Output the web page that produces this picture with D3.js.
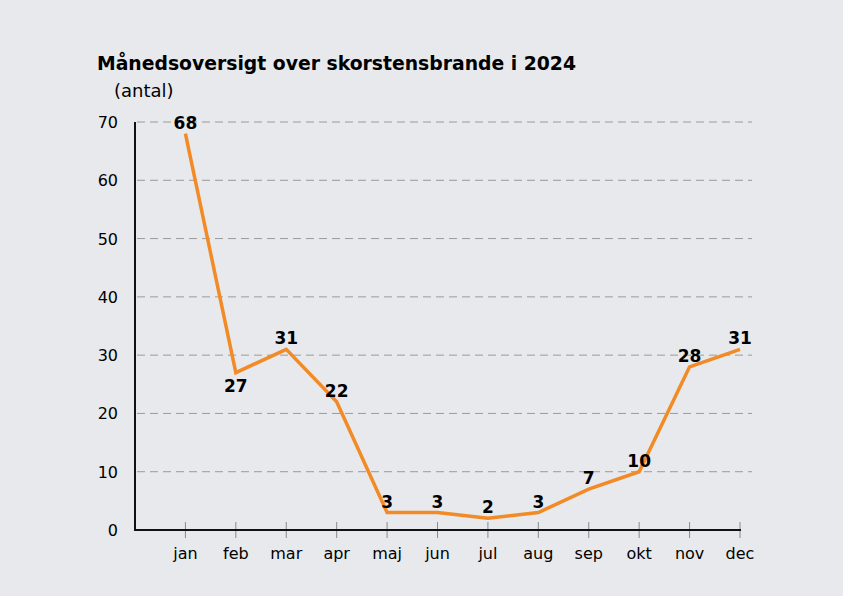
<!DOCTYPE html>
<html><head><meta charset="utf-8">
<script src="https://cdn.jsdelivr.net/npm/d3@7"></script>
<style>
body{margin:0;background:#e8e9ed;}
svg{display:block;font-family:"DejaVu Sans",Verdana,sans-serif;}
</style></head>
<body><svg id="c" width="843" height="596"></svg>
<script>
const months = ["jan","feb","mar","apr","maj","jun","jul","aug","sep","okt","nov","dec"];
const values = [68,27,31,22,3,3,2,3,7,10,28,31];
const yTicks = [0,10,20,30,40,50,60,70];
const title = "Månedsoversigt over skorstensbrande i 2024";
const unit = "(antal)";

const svg = d3.select("#c");
svg.append("rect").attr("width",843).attr("height",596).attr("fill","#e8e9ed");

const x = d3.scalePoint().domain([""].concat(months)).range([135,740]);
const y = d3.scaleLinear().domain([0,70]).range([530,122]);

// gridlines
svg.append("g").selectAll("line").data(yTicks.filter(d=>d>0)).join("line")
  .attr("x1",137).attr("x2",752)
  .attr("y1",d=>y(d)).attr("y2",d=>y(d))
  .attr("stroke","#9a9a9a").attr("stroke-width",1).attr("stroke-dasharray","8,5");

// y labels
svg.append("g").selectAll("text").data(yTicks).join("text")
  .attr("x",118).attr("y",d=>y(d)+6)
  .attr("text-anchor","end").attr("font-size",16).attr("fill","#000")
  .text(d=>d);

// x ticks
svg.append("g").selectAll("line").data(months).join("line")
  .attr("x1",d=>x(d)).attr("x2",d=>x(d))
  .attr("y1",522).attr("y2",538)
  .attr("stroke","#8a8a8a").attr("stroke-width",1);

// axes lines
svg.append("line").attr("x1",135).attr("x2",135).attr("y1",y(70)).attr("y2",y(0)+1)
  .attr("stroke","#111").attr("stroke-width",2);
svg.append("line").attr("x1",134).attr("x2",741).attr("y1",y(0)).attr("y2",y(0))
  .attr("stroke","#111").attr("stroke-width",2);

// x labels
svg.append("g").selectAll("text").data(months).join("text")
  .attr("x",d=>x(d)).attr("y",559)
  .attr("text-anchor","middle").attr("font-size",16).attr("fill","#000")
  .text(d=>d);

// line
const data = months.map((m,i)=>({m,v:values[i]}));
svg.append("path").datum(data)
  .attr("fill","none").attr("stroke","#f28a26").attr("stroke-width",3.5)
  .attr("stroke-linejoin","miter")
  .attr("d",d3.line().x(d=>x(d.m)).y(d=>y(d.v)));

// value labels
svg.append("g").selectAll("text").data(data).join("text")
  .attr("x",d=>x(d.m))
  .attr("y",d=>d.m==="feb" ? y(d.v)+19 : y(d.v)-5)
  .attr("text-anchor","middle").attr("font-size",17).attr("font-weight","bold").attr("fill","#000")
  .text(d=>d.v);

// title
svg.append("text").attr("x",97).attr("y",70).attr("font-size",18.8).attr("font-weight","bold")
  .attr("fill","#000").text(title);
svg.append("text").attr("x",114).attr("y",97).attr("font-size",18).attr("fill","#000").text(unit);
</script></body></html>
